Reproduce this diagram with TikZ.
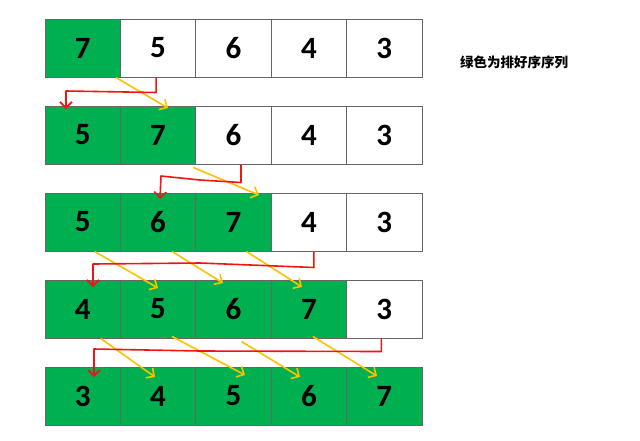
\documentclass[tikz,border=0pt]{standalone}
\usepackage{fontspec}
\setmainfont{Carlito}
\newfontfamily\cjk{Noto Sans CJK SC}
\usetikzlibrary{arrows.meta}
\definecolor{okgreen}{RGB}{0,176,80}
\definecolor{redline}{RGB}{240,20,20}
\definecolor{yelline}{RGB}{255,192,0}
\tikzset{
  cell/.style={draw=black!60, line width=1pt, minimum width=75.4pt, minimum height=58pt, inner sep=0pt, font=\fontsize{31}{33}\selectfont\bfseries},
  done/.style={cell, fill=okgreen},
  todo/.style={cell, fill=white},
  redarr/.style={draw=redline, line width=1.6pt, line join=round, -{Straight Barb[length=6pt,width=12pt]}},
  yelarr/.style={draw=yelline, line width=1.6pt, -{Straight Barb[length=6pt,width=12pt]}},
}
\begin{document}
\begin{tikzpicture}[x=1pt,y=-1pt]
\useasboundingbox (0,0) rectangle (640,440);
% row 1
\node[done] (n-1-1) at (82.7,48) {7};
\node[todo] (n-1-2) at (158.1,48) {5};
\node[todo] (n-1-3) at (233.5,48) {6};
\node[todo] (n-1-4) at (308.9,48) {4};
\node[todo] (n-1-5) at (384.3,48) {3};
% row 2
\node[done] (n-2-1) at (82.7,135) {5};
\node[done] (n-2-2) at (158.1,135) {7};
\node[todo] (n-2-3) at (233.5,135) {6};
\node[todo] (n-2-4) at (308.9,135) {4};
\node[todo] (n-2-5) at (384.3,135) {3};
% row 3
\node[done] (n-3-1) at (82.7,222) {5};
\node[done] (n-3-2) at (158.1,222) {6};
\node[done] (n-3-3) at (233.5,222) {7};
\node[todo] (n-3-4) at (308.9,222) {4};
\node[todo] (n-3-5) at (384.3,222) {3};
% row 4
\node[done] (n-4-1) at (82.7,309) {4};
\node[done] (n-4-2) at (158.1,309) {5};
\node[done] (n-4-3) at (233.5,309) {6};
\node[done] (n-4-4) at (308.9,309) {7};
\node[todo] (n-4-5) at (384.3,309) {3};
% row 5
\node[done] (n-5-1) at (82.7,396) {3};
\node[done] (n-5-2) at (158.1,396) {4};
\node[done] (n-5-3) at (233.5,396) {5};
\node[done] (n-5-4) at (308.9,396) {6};
\node[done] (n-5-5) at (384.3,396) {7};
% legend
\node[font=\cjk\fontsize{13.5}{15}\selectfont\bfseries] (legend) at (514,62) {绿色为排好序序列};
% end coordinates
\coordinate (r12) at (66,109);
\coordinate (y12) at (168,108);
\coordinate (r23) at (160,199);
\coordinate (y23) at (259,195);
\coordinate (r34) at (93,287);
\coordinate (y34a) at (158,288);
\coordinate (y34b) at (223,283);
\coordinate (y34c) at (302,287);
\coordinate (r45) at (94,377);
\coordinate (y45a) at (155,377);
\coordinate (y45b) at (245,375);
\coordinate (y45c) at (300,377);
\coordinate (y45d) at (377,376);
% row1 -> row2
\draw[yelarr] ([xshift=-5pt]n-1-1.south east) -- (y12);
\draw[redarr] ([xshift=-2pt]n-1-2.south) -- ++(0,15) -- (66,91) -- (r12);
% row2 -> row3
\draw[yelarr] ([xshift=-3pt,yshift=-3pt]n-2-2.south east) -- (y23);
\draw[redarr] ([xshift=7.5pt]n-2-3.south) -- ++(0,18) -- (200,180) -- (161,176) -- (r23);
% row3 -> row4
\draw[yelarr] ([xshift=12pt]n-3-1.south) -- (y34a);
\draw[yelarr] ([xshift=14pt]n-3-2.south) -- (y34b);
\draw[yelarr] ([xshift=13pt]n-3-3.south) -- (y34c);
\draw[redarr] ([xshift=5pt]n-3-4.south) -- ++(0,16) -- (200,263) -- (93,264) -- (r34);
% row4 -> row5
\draw[yelarr] ([xshift=18pt]n-4-1.south) -- (y45a);
\draw[yelarr] ([xshift=14pt,yshift=2pt]n-4-2.south) -- (y45b);
\draw[yelarr] ([xshift=8pt,yshift=-3pt]n-4-3.south) -- (y45c);
\draw[yelarr] ([xshift=4pt,yshift=2pt]n-4-4.south) -- (y45d);
\draw[redarr] ([xshift=-3pt]n-4-5.south) -- ++(0,13) -- (200,351) -- (94,349) -- (r45);
\end{tikzpicture}
\end{document}
